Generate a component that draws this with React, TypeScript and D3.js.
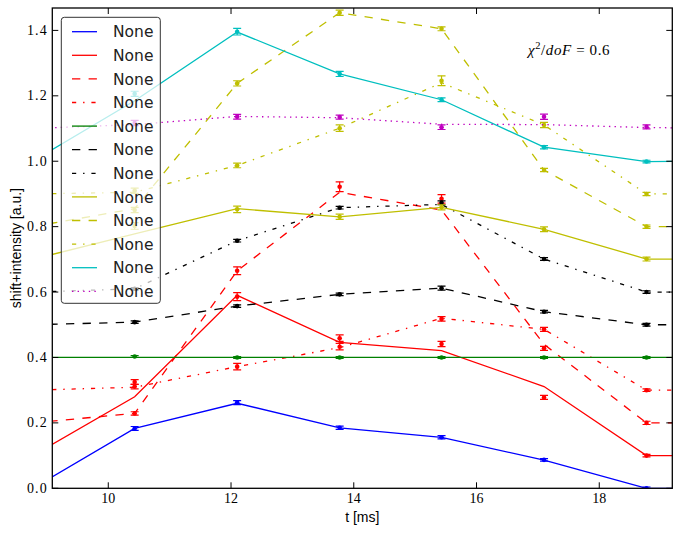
import React from "react";
import * as d3 from "d3";

// ---------- data ----------
const T_DATA = [10.43, 12.1, 13.77, 15.43, 17.1, 18.77];
const T_MODEL = [8.77, 10.43, 12.1, 13.77, 15.43, 17.1, 18.77, 20.43];

const blueModel = [0.0, 0.183, 0.26, 0.185, 0.156, 0.086, 0.0, 0.0];
const blueData = [0.183, 0.262, 0.185, 0.156, 0.087, 0.0];
const blueErr = [0.006, 0.006, 0.005, 0.005, 0.004, 0.004];

const redModel = [0.1, 0.28, 0.59, 0.446, 0.421, 0.311, 0.1, 0.1];
const redData = [0.325, 0.586, 0.459, 0.441, 0.278, 0.1];
const redErr = [0.007, 0.012, 0.01, 0.008, 0.006, 0.004];

const redDashModel = [0.2, 0.229, 0.665, 0.905, 0.851, 0.44, 0.2, 0.2];
const redDashData = [0.229, 0.665, 0.922, 0.885, 0.428, 0.2];
const redDashErr = [0.005, 0.012, 0.015, 0.013, 0.006, 0.005];

const redDashDotModel = [0.3, 0.309, 0.372, 0.43, 0.52, 0.486, 0.3, 0.3];
const redDashDotData = [0.311, 0.372, 0.433, 0.518, 0.486, 0.3];
const redDashDotErr = [0.007, 0.01, 0.01, 0.007, 0.006, 0.004];

const greenModel = [0.4, 0.4, 0.4, 0.4, 0.4, 0.4, 0.4, 0.4];
const greenData = [0.403, 0.4, 0.4, 0.4, 0.4, 0.4];
const greenErr = [0.003, 0.003, 0.003, 0.003, 0.003, 0.003];

const blackDashModel = [0.5, 0.508, 0.557, 0.593, 0.612, 0.54, 0.5, 0.5];
const blackDashData = [0.508, 0.557, 0.593, 0.612, 0.54, 0.5];
const blackDashErr = [0.004, 0.004, 0.004, 0.006, 0.004, 0.004];

const blackDashDotModel = [0.6, 0.61, 0.757, 0.858, 0.868, 0.701, 0.6, 0.6];
const blackDashDotData = [0.61, 0.757, 0.858, 0.873, 0.701, 0.6];
const blackDashDotErr = [0.004, 0.004, 0.004, 0.006, 0.004, 0.004];

const yellowModel = [0.7, 0.778, 0.855, 0.83, 0.859, 0.792, 0.701, 0.7];
const yellowData = [0.802, 0.853, 0.83, 0.859, 0.792, 0.701];
const yellowErr = [0.01, 0.01, 0.008, 0.008, 0.007, 0.006];

const yellowDashModel = [0.8, 0.855, 1.238, 1.454, 1.405, 0.973, 0.8, 0.8];
const yellowDashData = [0.851, 1.238, 1.454, 1.405, 0.973, 0.8];
const yellowDashErr = [0.008, 0.008, 0.008, 0.006, 0.005, 0.005];

const yellowDashDotModel = [0.9, 0.905, 0.987, 1.101, 1.24, 1.111, 0.9, 0.9];
const yellowDashDotData = [0.91, 0.987, 1.101, 1.246, 1.111, 0.9];
const yellowDashDotErr = [0.008, 0.007, 0.01, 0.015, 0.008, 0.005];

const cyanModel = [1.0, 1.185, 1.395, 1.267, 1.188, 1.043, 0.999, 1.0];
const cyanData = [1.206, 1.396, 1.267, 1.188, 1.043, 0.999];
const cyanErr = [0.008, 0.01, 0.008, 0.006, 0.005, 0.004];

const magentaModel = [1.1, 1.112, 1.137, 1.133, 1.113, 1.112, 1.103, 1.1];
const magentaData = [1.117, 1.136, 1.135, 1.104, 1.136, 1.105];
const magentaErr = [0.008, 0.007, 0.006, 0.007, 0.008, 0.006];

const LEGEND_LABELS = ["None", "None", "None", "None", "None", "None", "None", "None", "None", "None", "None", "None"];
const X_TICKS = [10, 12, 14, 16, 18];
const Y_TICKS = [0.0, 0.2, 0.4, 0.6, 0.8, 1.0, 1.2, 1.4];

// ---------- styles ----------
const DASHED = "8.3,8.3";
const DASHDOT = "4.2,6.9,1.4,6.9";
const DOTTED = "1.4,4.2";

const SERIES = [
  { model: blueModel, data: blueData, err: blueErr, color: "#0000ff", dash: null },
  { model: redModel, data: redData, err: redErr, color: "#ff0000", dash: null },
  { model: redDashModel, data: redDashData, err: redDashErr, color: "#ff0000", dash: DASHED },
  { model: redDashDotModel, data: redDashDotData, err: redDashDotErr, color: "#ff0000", dash: DASHDOT },
  { model: greenModel, data: greenData, err: greenErr, color: "#008000", dash: null },
  { model: blackDashModel, data: blackDashData, err: blackDashErr, color: "#000000", dash: DASHED },
  { model: blackDashDotModel, data: blackDashDotData, err: blackDashDotErr, color: "#000000", dash: DASHDOT },
  { model: yellowModel, data: yellowData, err: yellowErr, color: "#bfbf00", dash: null },
  { model: yellowDashModel, data: yellowDashData, err: yellowDashErr, color: "#bfbf00", dash: DASHED },
  { model: yellowDashDotModel, data: yellowDashDotData, err: yellowDashDotErr, color: "#bfbf00", dash: DASHDOT },
  { model: cyanModel, data: cyanData, err: cyanErr, color: "#00bfbf", dash: null },
  { model: magentaModel, data: magentaData, err: magentaErr, color: "#bf00bf", dash: DOTTED },
];

const W = 683;
const H = 533;
const PL = 52.3, PR = 672.3, PT = 8, PB = 488.3;

export default function App() {
  const x = d3.scaleLinear().domain([9.088, 19.19]).range([PL, PR]);
  const y = d3.scaleLinear().domain([0, 1.4685]).range([PB, PT]);
  const line = d3.line<number>().x((_, i) => x(T_MODEL[i])).y((v) => y(v));

  const tickLen = 6;
  const legX = 61.3, legY = 17.3, legW = 99, legH = 286;
  const legRow0 = 31.7, legStep = 23.6;

  return (
    <svg width={W} height={H} style={{ position: "absolute", left: 0, top: 0, background: "#fff" }}>
      <defs>
        <clipPath id="plotclip">
          <rect x={PL} y={PT} width={PR - PL} height={PB - PT} />
        </clipPath>
      </defs>
      <rect x={0} y={0} width={W} height={H} fill="#fff" />
      <g clipPath="url(#plotclip)">
        {SERIES.map((s, si) => (
          <g key={si}>
            <path d={line(s.model) || ""} fill="none" stroke={s.color} strokeWidth={1.3}
              strokeDasharray={s.dash || undefined} />
            {s.data.map((v, i) => {
              const cx = x(T_DATA[i]);
              const y1 = y(v + s.err[i]);
              const y2 = y(v - s.err[i]);
              return (
                <g key={i} stroke={s.color} strokeWidth={1.2}>
                  <line x1={cx} x2={cx} y1={y1} y2={y2} />
                  <line x1={cx - 4} x2={cx + 4} y1={y1} y2={y1} />
                  <line x1={cx - 4} x2={cx + 4} y1={y2} y2={y2} />
                  <circle cx={cx} cy={y(v)} r={2.3} fill={s.color} stroke="none" />
                </g>
              );
            })}
          </g>
        ))}
      </g>

      {/* axes frame */}
      <rect x={PL} y={PT} width={PR - PL} height={PB - PT} fill="none" stroke="#000" strokeWidth={1.3} />
      {X_TICKS.map((t) => (
        <g key={"x" + t}>
          <line x1={x(t)} x2={x(t)} y1={PB} y2={PB - tickLen} stroke="#000" strokeWidth={1} />
          <line x1={x(t)} x2={x(t)} y1={PT} y2={PT + tickLen} stroke="#000" strokeWidth={1} />
          <text x={x(t)} y={PB + 15} textAnchor="middle" fontFamily="Liberation Serif" fontSize={14}>
            {t}
          </text>
        </g>
      ))}
      {Y_TICKS.map((t) => (
        <g key={"y" + t}>
          <line x1={PL} x2={PL + tickLen} y1={y(t)} y2={y(t)} stroke="#000" strokeWidth={1} />
          <line x1={PR} x2={PR - tickLen} y1={y(t)} y2={y(t)} stroke="#000" strokeWidth={1} />
          <text x={48} y={y(t) + 4.5} textAnchor="end" fontFamily="Liberation Serif" fontSize={14}
            letterSpacing={1.2}>
            {t.toFixed(1)}
          </text>
        </g>
      ))}
      <text x={(PL + PR) / 2} y={521.5} textAnchor="middle" fontFamily="Liberation Sans" fontSize={14}>
        t [ms]
      </text>
      <text transform={`translate(21,${(PT + PB) / 2}) rotate(-90)`} textAnchor="middle"
        fontFamily="Liberation Sans" fontSize={14}>
        shift+intensity [a.u.]
      </text>

      {/* annotation */}
      <text x={528} y={54.5} fontFamily="Liberation Serif" fontSize={15} letterSpacing={0.6}>
        <tspan fontStyle="italic">χ</tspan>
        <tspan dy={-5.5} fontSize={10.5}>2</tspan>
        <tspan dy={5.5}>/</tspan>
        <tspan fontStyle="italic">doF</tspan>
        <tspan> = 0.6</tspan>
      </text>

      {/* legend */}
      <rect x={legX} y={legY} width={legW} height={legH} rx={3} ry={3}
        fill="#fff" fillOpacity={0.72} stroke="#333" strokeWidth={1} />
      {SERIES.map((s, i) => {
        const yy = legRow0 + i * legStep;
        return (
          <g key={"l" + i}>
            <line x1={72} x2={97} y1={yy} y2={yy} stroke={s.color} strokeWidth={1.3}
              strokeDasharray={s.dash || undefined} />
            <text x={113} y={yy + 5.7} fontFamily="DejaVu Sans" fontSize={15.5} fill="#222">
              {LEGEND_LABELS[i]}
            </text>
          </g>
        );
      })}
    </svg>
  );
}
